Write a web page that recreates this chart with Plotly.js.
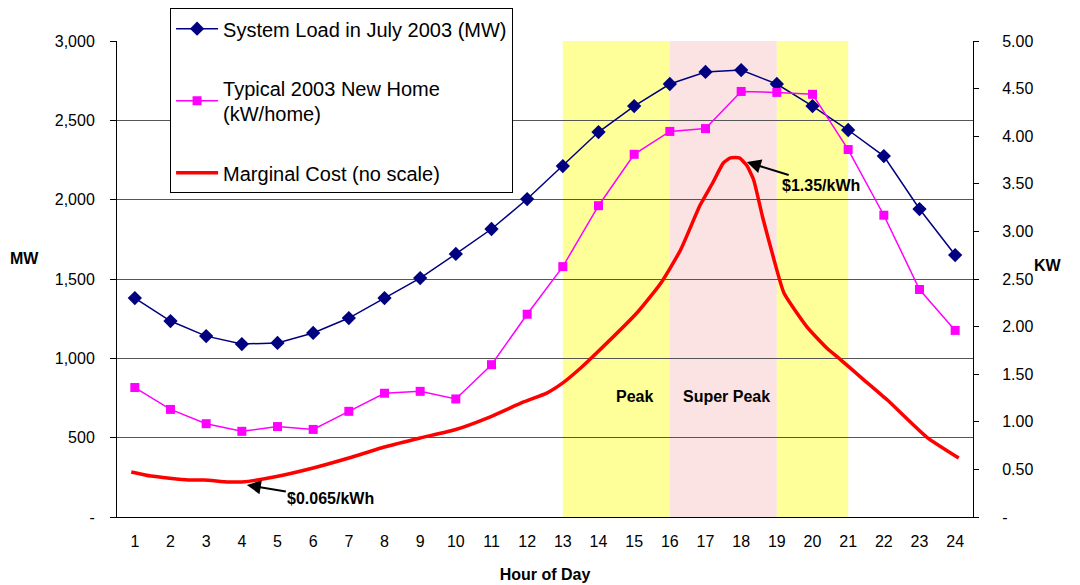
<!DOCTYPE html>
<html>
<head>
<meta charset="utf-8">
<script src="https://cdn.plot.ly/plotly-3.0.1.min.js"></script>
<style>html,body{margin:0;padding:0;background:#fff;}#chart{width:1080px;height:585px;}</style>
</head>
<body>
<div id="chart"></div>
<script>
// ---- data ----
const hours = [1,2,3,4,5,6,7,8,9,10,11,12,13,14,15,16,17,18,19,20,21,22,23,24];
const systemLoadMW = [1380,1235,1140,1090,1097,1160,1254,1380,1506,1658,1815,2004,2212,2426,2590,2729,2805,2817,2729,2590,2439,2275,1941,1651];
const newHomeKW = [1.36,1.13,0.98,0.90,0.95,0.92,1.11,1.30,1.32,1.24,1.60,2.13,2.63,3.27,3.81,4.05,4.08,4.47,4.46,4.44,3.86,3.17,2.39,1.96];
// marginal cost has no scale: drawn as a relative index on the MW axis
const mcHour = [0.9,1.45,2.5,2.95,3.6,4.0,4.9,6.0,7.0,8.0,9.0,9.95,10.95,11.9,12.55,13.0,13.5,13.8,15.1,15.75,16.3,16.85,17.2,17.5,17.7,17.95,18.15,18.35,18.6,18.9,19.2,19.85,20.4,20.8,21.35,22.1,23.2,24.1];
const mcIndex = [284,258,233,233,221,221,252,309,372,441,498,548,630,725,781,845,939,1002,1292,1475,1683,1966,2105,2231,2263,2263,2218,2124,1891,1639,1412,1197,1065,989,882,737,504,372];
const mwTicks = [0,500,1000,1500,2000,2500,3000];
const mwTickText = ['-','500','1,000','1,500','2,000','2,500','3,000'];
const kwTicks = [0,0.5,1,1.5,2,2.5,3,3.5,4,4.5,5];
const kwTickText = ['-','0.50','1.00','1.50','2.00','2.50','3.00','3.50','4.00','4.50','5.00'];
const periods = [
  {name:'Peak', start:13, end:16, color:'#FFFF99'},
  {name:'Super Peak', start:16, end:19, color:'#FCE3E3'},
  {name:'Peak2', start:19, end:21, color:'#FFFF99'}
];
const periodLabels = [{text:'Peak', hour:15, level:760},{text:'Super Peak', hour:17.58, level:760}];
const costNotes = [
  {text:'$1.35/kWh', hour:18.16, level:2237, ax:74, ay:23},
  {text:'$0.065/kWh', hour:4.14, level:202, ax:84, ay:14}
];

const FONT = 'Liberation Sans, Arial, Helvetica, sans-serif';
const boundaries = hours.map(h => h - 0.5).concat([hours[hours.length-1] + 0.5]);

const traces = [
  {x:hours, y:systemLoadMW, name:'System Load in July 2003 (MW)', type:'scatter', mode:'lines+markers',
   line:{color:'#000080', width:1.5}, marker:{symbol:'diamond', size:11, color:'#000080'},
   xaxis:'x', yaxis:'y', legendgroup:'a'},
  {x:hours, y:newHomeKW, name:'Typical 2003 New Home<br>(kW/home)', type:'scatter', mode:'lines+markers',
   line:{color:'#FF00FF', width:1.5}, marker:{symbol:'square', size:9, color:'#FF00FF'},
   xaxis:'x', yaxis:'y2', legendgroup:'b'},
  {x:mcHour, y:mcIndex, name:'Marginal Cost (no scale)', type:'scatter', mode:'lines',
   line:{color:'#FF0000', width:3.5, shape:'spline', smoothing:0.5},
   xaxis:'x', yaxis:'y', legendgroup:'c'}
];

const shapes = periods.map(p => ({type:'rect', xref:'x', yref:'paper', x0:p.start, x1:p.end, y0:0, y1:1,
  fillcolor:p.color, line:{width:0}, layer:'below'}));

const annotations = [];
periodLabels.forEach(l => annotations.push({x:l.hour, y:l.level, xref:'x', yref:'y', text:'<b>'+l.text+'</b>',
  showarrow:false, font:{family:FONT, size:16, color:'#000'}}));
costNotes.forEach(n => annotations.push({x:n.hour, y:n.level, xref:'x', yref:'y', text:'<b>'+n.text+'</b>',
  showarrow:true, ax:n.ax, ay:n.ay, arrowhead:2, arrowsize:1.4, arrowwidth:2, arrowcolor:'#000',
  font:{family:FONT, size:16, color:'#000'}}));
annotations.push({xref:'paper', yref:'paper', x:-0.1075, y:0.544, xanchor:'center', yanchor:'middle',
  text:'<b>MW</b>', showarrow:false, font:{family:FONT, size:16, color:'#000'}});
annotations.push({xref:'paper', yref:'paper', x:1.088, y:0.529, xanchor:'center', yanchor:'middle',
  text:'<b>KW</b>', showarrow:false, font:{family:FONT, size:16, color:'#000'}});

const layout = {
  width:1080, height:585,
  margin:{l:117, r:107, t:41, b:68, autoexpand:false},
  paper_bgcolor:'#fff', plot_bgcolor:'#fff',
  font:{family:FONT, size:16, color:'#000'},
  showlegend:true,
  legend:{x:0.062, y:0.986, xref:'paper', yref:'container', xanchor:'left', yanchor:'top', bgcolor:'#fff',
    bordercolor:'#000', borderwidth:1,
    font:{family:FONT, size:20, color:'#000'}, tracegroupgap:30, traceorder:'grouped', itemwidth:42},
  xaxis:{range:[0.5,24.5], tickvals:hours, ticktext:hours.map(String), ticks:'', showgrid:false, zeroline:false,
    showline:true, linecolor:'#000', linewidth:1, ticklabelstandoff:10,
    title:{text:'<b>Hour of Day</b>', font:{family:FONT, size:16}, standoff:19}},
  xaxis2:{overlaying:'x', anchor:'y', side:'bottom', range:[0.5,24.5], tickvals:boundaries, ticks:'outside',
    ticklen:5, tickcolor:'#000', showticklabels:false, showgrid:false, zeroline:false, showline:false},
  yaxis:{range:[0,3000], tickvals:mwTicks, ticktext:mwTickText, ticks:'outside', ticklen:6, tickcolor:'#000',
    showgrid:true, gridcolor:'#555', gridwidth:1, zeroline:false, showline:true, linecolor:'#000', linewidth:1,
    ticklabelstandoff:12},
  yaxis2:{overlaying:'y', side:'right', anchor:'x', range:[0,5], tickvals:kwTicks, ticktext:kwTickText,
    ticks:'outside', ticklen:5, tickcolor:'#000', showgrid:false, zeroline:false, showline:true,
    linecolor:'#000', linewidth:1, ticklabelstandoff:20},
  yaxis3:{overlaying:'y', side:'right', anchor:'x', range:[0,5], tickvals:kwTicks, ticks:'inside', ticklen:5,
    tickcolor:'#000', showticklabels:false, showgrid:false, zeroline:false, showline:false},
  shapes:shapes,
  annotations:annotations
};

Plotly.newPlot('chart', traces, layout, {displayModeBar:false, staticPlot:true});
</script>
</body>
</html>
